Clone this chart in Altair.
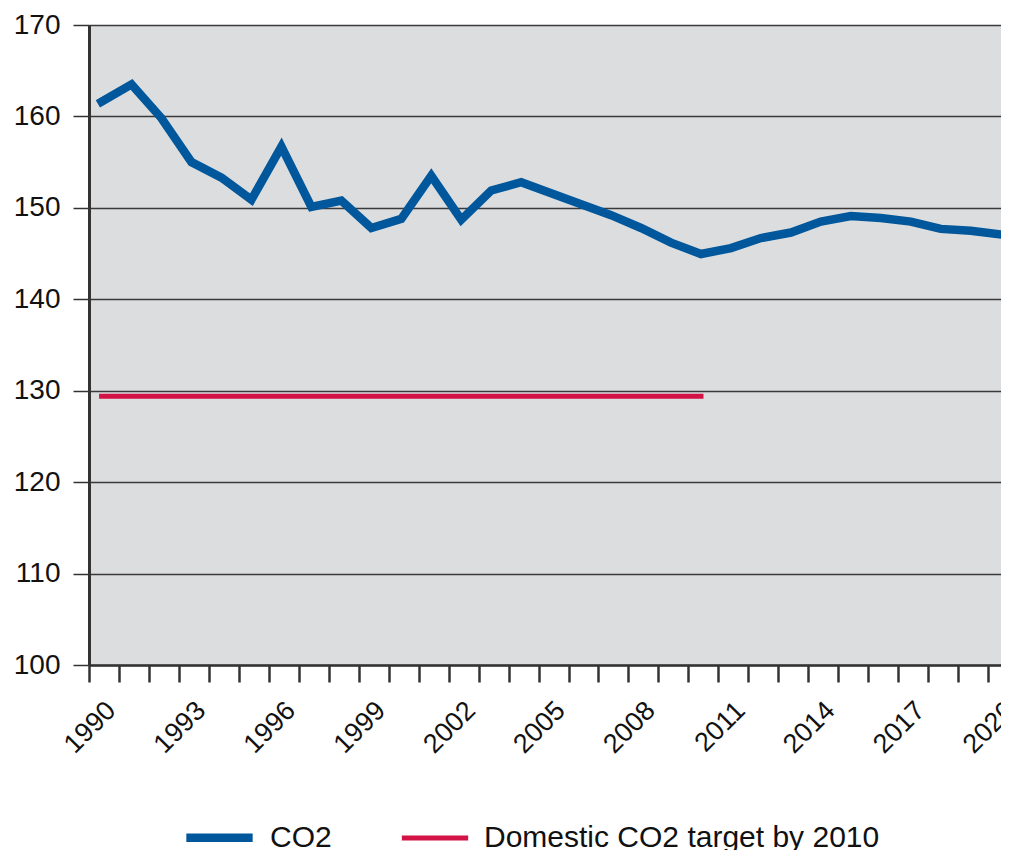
import altair as alt
import pandas as pd

# ---- data ----
years = list(range(1990, 2021))
co2 = [161.6, 163.5, 159.8, 155.0, 153.3, 150.9, 156.7, 150.1, 150.8, 147.8,
       148.8, 153.5, 148.7, 151.9, 152.8, 151.6, 150.4, 149.2, 147.8, 146.2,
       144.95, 145.6, 146.7, 147.3, 148.5, 149.1, 148.9, 148.5, 147.7, 147.5,
       147.1]
target_years = [1990, 2010]
target_values = [129.4, 129.4]

series_names = ["CO2", "Domestic CO2 target by 2010"]
series_colors = ["#00579B", "#D31245"]
series_widths = [8.5, 5]

y_ticks = [100, 110, 120, 130, 140, 150, 160, 170]

rows = [{"year": y, "value": v, "series": series_names[0]} for y, v in zip(years, co2)]
rows += [{"year": y, "value": v, "series": series_names[1]} for y, v in zip(target_years, target_values)]
df = pd.DataFrame(rows)

FONT = "Liberation Sans"
legend = alt.Legend(
    title=None, orient="none", legendX=93, legendY=775, direction="horizontal",
    symbolType="stroke", symbolSize=4400, labelFontSize=30, labelFont=FONT,
    labelColor="#111111", labelOffset=13, columnPadding=59, padding=0,
    labelLimit=0,
)

chart = alt.Chart(df).transform_calculate(
    xpos="datum.year + 0.42"
).mark_line(strokeCap="square", strokeJoin="miter").encode(
    x=alt.X("xpos:Q",
            scale=alt.Scale(domain=[1990, 2020.43], nice=False, zero=False),
            axis=alt.Axis(title=None, values=years, grid=False,
                          labelExpr="(datum.value - 1990) % 3 == 0 ? datum.value : ''",
                          labelAngle=-45, labelAlign="right", labelBaseline="middle",
                          labelOffset=22, labelPadding=24, labelFontSize=27,
                          labelFont=FONT, labelColor="#111111",
                          labelFlush=False, labelOverlap=False,
                          domainColor="#333333", domainWidth=2.5,
                          tickColor="#333333", tickWidth=2.5, tickSize=17)),
    y=alt.Y("value:Q",
            scale=alt.Scale(domain=[100, 170], nice=False, zero=False),
            axis=alt.Axis(title=None, values=y_ticks, grid=True,
                          gridColor="#3a3a3a", gridWidth=1.5,
                          labelFontSize=28, labelFont=FONT, labelColor="#111111",
                          labelPadding=13, labelFlush=False, labelOverlap=False,
                          domainColor="#333333", domainWidth=3,
                          tickColor="#333333", tickWidth=1.5, tickSize=16)),
    color=alt.Color("series:N", scale=alt.Scale(domain=series_names, range=series_colors),
                    legend=legend),
    strokeWidth=alt.StrokeWidth("series:N", scale=alt.Scale(domain=series_names, range=series_widths),
                                legend=legend),
).properties(
    width=912, height=640,
    autosize=alt.AutoSizeParams(type="none"),
    padding={"left": 81, "top": 17, "right": 0, "bottom": 185},
).configure_view(fill="#DCDDDF", stroke=None)

chart.save("out.html", embed_options={"renderer": "svg", "actions": False})
